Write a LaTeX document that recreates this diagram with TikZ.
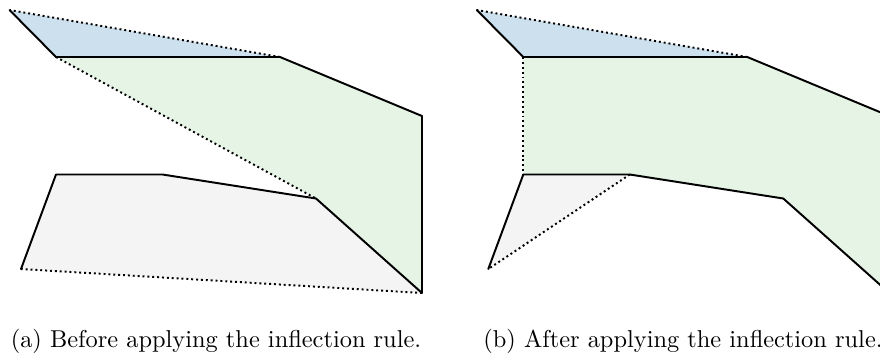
\documentclass[tikz,border=0pt]{standalone}
\definecolor{regblue}{RGB}{204,224,237}
\definecolor{reggreen}{RGB}{229,244,229}
\definecolor{reggray}{RGB}{244,244,244}
\begin{document}
\begin{tikzpicture}[x=0.41pt,y=-0.41pt,
  solidedge/.style={line width=0.8pt, line join=round, line cap=round},
  dotedge/.style={line width=0.8pt, dash pattern=on 0.8pt off 1.2pt},
  captext/.style={anchor=base, inner sep=0pt, font=\fontsize{10}{12}\selectfont}]
\useasboundingbox (0,0) rectangle (880,356);
\clip (0,0) rectangle (880,356);
% ---------- (a) before ----------
\coordinate (A) at (9.5,10);
\coordinate (B) at (56,57);
\coordinate (C) at (280,57);
\coordinate (D) at (422,116);
\coordinate (E) at (422,293);
\coordinate (F) at (316,198.5);
\coordinate (G) at (162.5,174.5);
\coordinate (H) at (56,174.5);
\coordinate (I) at (21,269);
\fill[regblue] (A)--(B)--(C)--cycle;
\fill[reggreen] (B)--(C)--(D)--(E)--(F)--cycle;
\fill[reggray] (H)--(G)--(F)--(E)--(I)--cycle;
\draw[dotedge] (C)--(A);
\draw[dotedge] (B)--(F);
\draw[dotedge] (E)--(I);
\draw[solidedge] (A)--(B)--(C)--(D)--(E);
\draw[solidedge] (I)--(H)--(G)--(F)--(E);
% ---------- (b) after ----------
\coordinate (A2) at (476.8,10);
\coordinate (B2) at (523.3,57);
\coordinate (C2) at (747.3,57);
\coordinate (D2) at (889.3,116);
\coordinate (E2) at (889.3,293);
\coordinate (F2) at (783.3,198.5);
\coordinate (G2) at (629.8,174.5);
\coordinate (H2) at (523.3,174.5);
\coordinate (I2) at (488.3,269);
\fill[regblue] (A2)--(B2)--(C2)--cycle;
\fill[reggreen] (B2)--(C2)--(D2)--(E2)--(F2)--(G2)--(H2)--cycle;
\fill[reggray] (H2)--(G2)--(I2)--cycle;
\draw[dotedge] (C2)--(A2);
\draw[dotedge] (B2)--(H2);
\draw[dotedge] (G2)--(I2);
\draw[solidedge] (A2)--(B2)--(C2)--(D2)--(E2)--(F2)--(G2)--(H2)--(I2);
% ---------- captions ----------
\node[captext] (capa) at (216,347) {(a) Before applying the inflection rule.};
\node[captext] (capb) at (683,347) {(b) After applying the inflection rule.};
\end{tikzpicture}
\end{document}
